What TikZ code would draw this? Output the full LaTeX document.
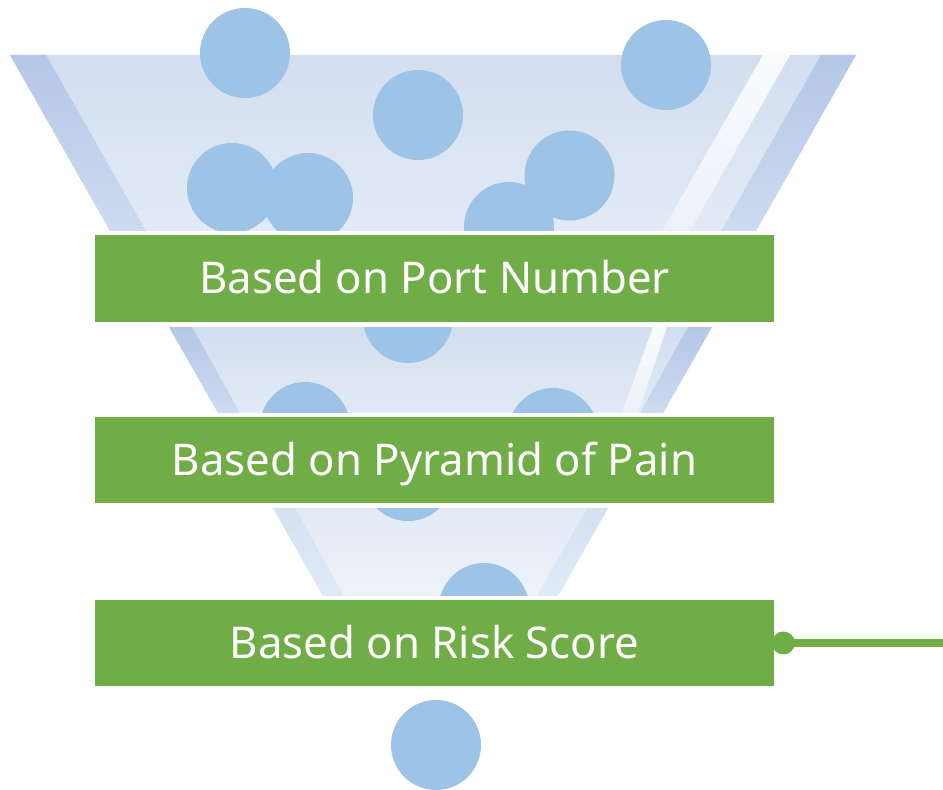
\documentclass[tikz,border=0pt]{standalone}
\usepackage{fontspec}
\setmainfont{Noto Sans}
\usepackage{tikz}

\definecolor{stagegreen}{RGB}{112,173,71}
\definecolor{dropblue}{RGB}{157,195,230}
\definecolor{glasstop}{RGB}{210,222,239}
\definecolor{glassbot}{RGB}{226,234,246}
\definecolor{rimtop}{RGB}{180,199,231}
\definecolor{rimbot}{RGB}{206,219,240}
\definecolor{shinetop}{RGB}{250,251,253}
\definecolor{shinebot}{RGB}{236,241,249}
\definecolor{paletop}{RGB}{226,234,246}
\definecolor{palebot}{RGB}{238,243,250}
\definecolor{palerimtop}{RGB}{212,225,242}
\definecolor{palerimbot}{RGB}{224,234,247}

\begin{document}
\begin{tikzpicture}[
            glass/.style={top color=glasstop, bottom color=glassbot},
            rim/.style={top color=rimtop, bottom color=rimbot},
            shine/.style={top color=shinetop, bottom color=shinebot},
            drop/.style={fill=dropblue},
            stage/.style={
                fill=stagegreen, text=white,
                minimum width=13.58cm, minimum height=1.73cm, inner sep=0pt,
                text height=17.5pt, text depth=0pt,
                font=\fontsize{24.9}{30}\selectfont
            },
            link/.style={draw=stagegreen, line width=4.6pt}
        ]

            \useasboundingbox (0,0) rectangle (18.86,15.8);

            % Top band of the funnel
            \shade[glass] (0.2,14.7) -- (17.12,14.7) -- (15.12,11.18) -- (2.2,11.18) -- cycle;
            \shade[rim] (0.2,14.7) -- (0.92,14.7) -- (2.92,11.18) -- (2.2,11.18) -- cycle;
            \shade[rim] (16.42,14.7) -- (17.12,14.7) -- (15.12,11.18) -- (14.42,11.18) -- cycle;
            \shade[shine] (15.26,14.7) -- (15.8,14.7) -- (13.8,11.18) -- (13.24,11.18) -- cycle;

            % Middle band
            \shade[glass] (3.38,9.26) -- (14.24,9.26) -- (13.26,7.54) -- (4.36,7.54) -- cycle;
            \shade[rim] (3.38,9.26) -- (3.84,9.26) -- (4.8,7.54) -- (4.36,7.54) -- cycle;
            \shade[rim] (13.76,9.26) -- (14.24,9.26) -- (13.26,7.54) -- (12.8,7.54) -- cycle;
            \shade[shine] (13.06,9.26) -- (13.34,9.26) -- (12.76,7.54) -- (12.44,7.54) -- cycle;

            % Bottom band (paler)
            \shade[top color=paletop, bottom color=palebot] (5.46,5.64) -- (12.16,5.64) -- (11.16,3.88) -- (6.46,3.88) -- cycle;
            \shade[top color=palerimtop, bottom color=palerimbot] (5.46,5.64) -- (5.9,5.64) -- (6.88,3.88) -- (6.46,3.88) -- cycle;
            \shade[top color=palerimtop, bottom color=palerimbot] (11.74,5.64) -- (12.16,5.64) -- (11.16,3.88) -- (10.74,3.88) -- cycle;

            % Drops falling through the funnel
            \fill[drop] (4.9,14.74) circle (0.9);
            \fill[drop] (13.32,14.5) circle (0.9);
            \fill[drop] (8.36,13.5) circle (0.9);
            \fill[drop] (4.64,12.04) circle (0.9);
            \fill[drop] (6.16,11.84) circle (0.9);
            \fill[drop] (11.39,12.29) circle (0.9);
            \fill[drop] (10.18,11.26) circle (0.9);
            \fill[drop] (8.16,9.44) circle (0.9);
            \fill[drop] (6.1,7.26) circle (0.9);
            \fill[drop] (11.06,7.14) circle (0.9);
            \fill[drop] (8.16,6.28) circle (0.9);
            \fill[drop] (9.68,3.64) circle (0.9);

            % White gaps between the bands
            \fill[white] (0,11.18) rectangle (18.86,9.26);
            \fill[white] (0,7.54) rectangle (18.86,5.64);
            \fill[white] (0,3.88) rectangle (18.86,1.8);

            % Last drop out of the funnel
            \fill[drop] (8.72,0.9) circle (0.9);

            % Filter stages
            \node[stage] (port) at (8.69,10.23) {Based on Port Number};
            \node[stage] (pain) at (8.69,6.6) {Based on Pyramid of Pain};
            \node[stage] (risk) at (8.69,2.94) {Based on Risk Score};

            % Output line
            \coordinate (exit) at (18.86,2.94);
            \draw[link] (risk.east) -- (exit);
            \fill[stagegreen] ([xshift=0.18cm]risk.east) circle (0.23);

        \end{tikzpicture}
\end{document}
